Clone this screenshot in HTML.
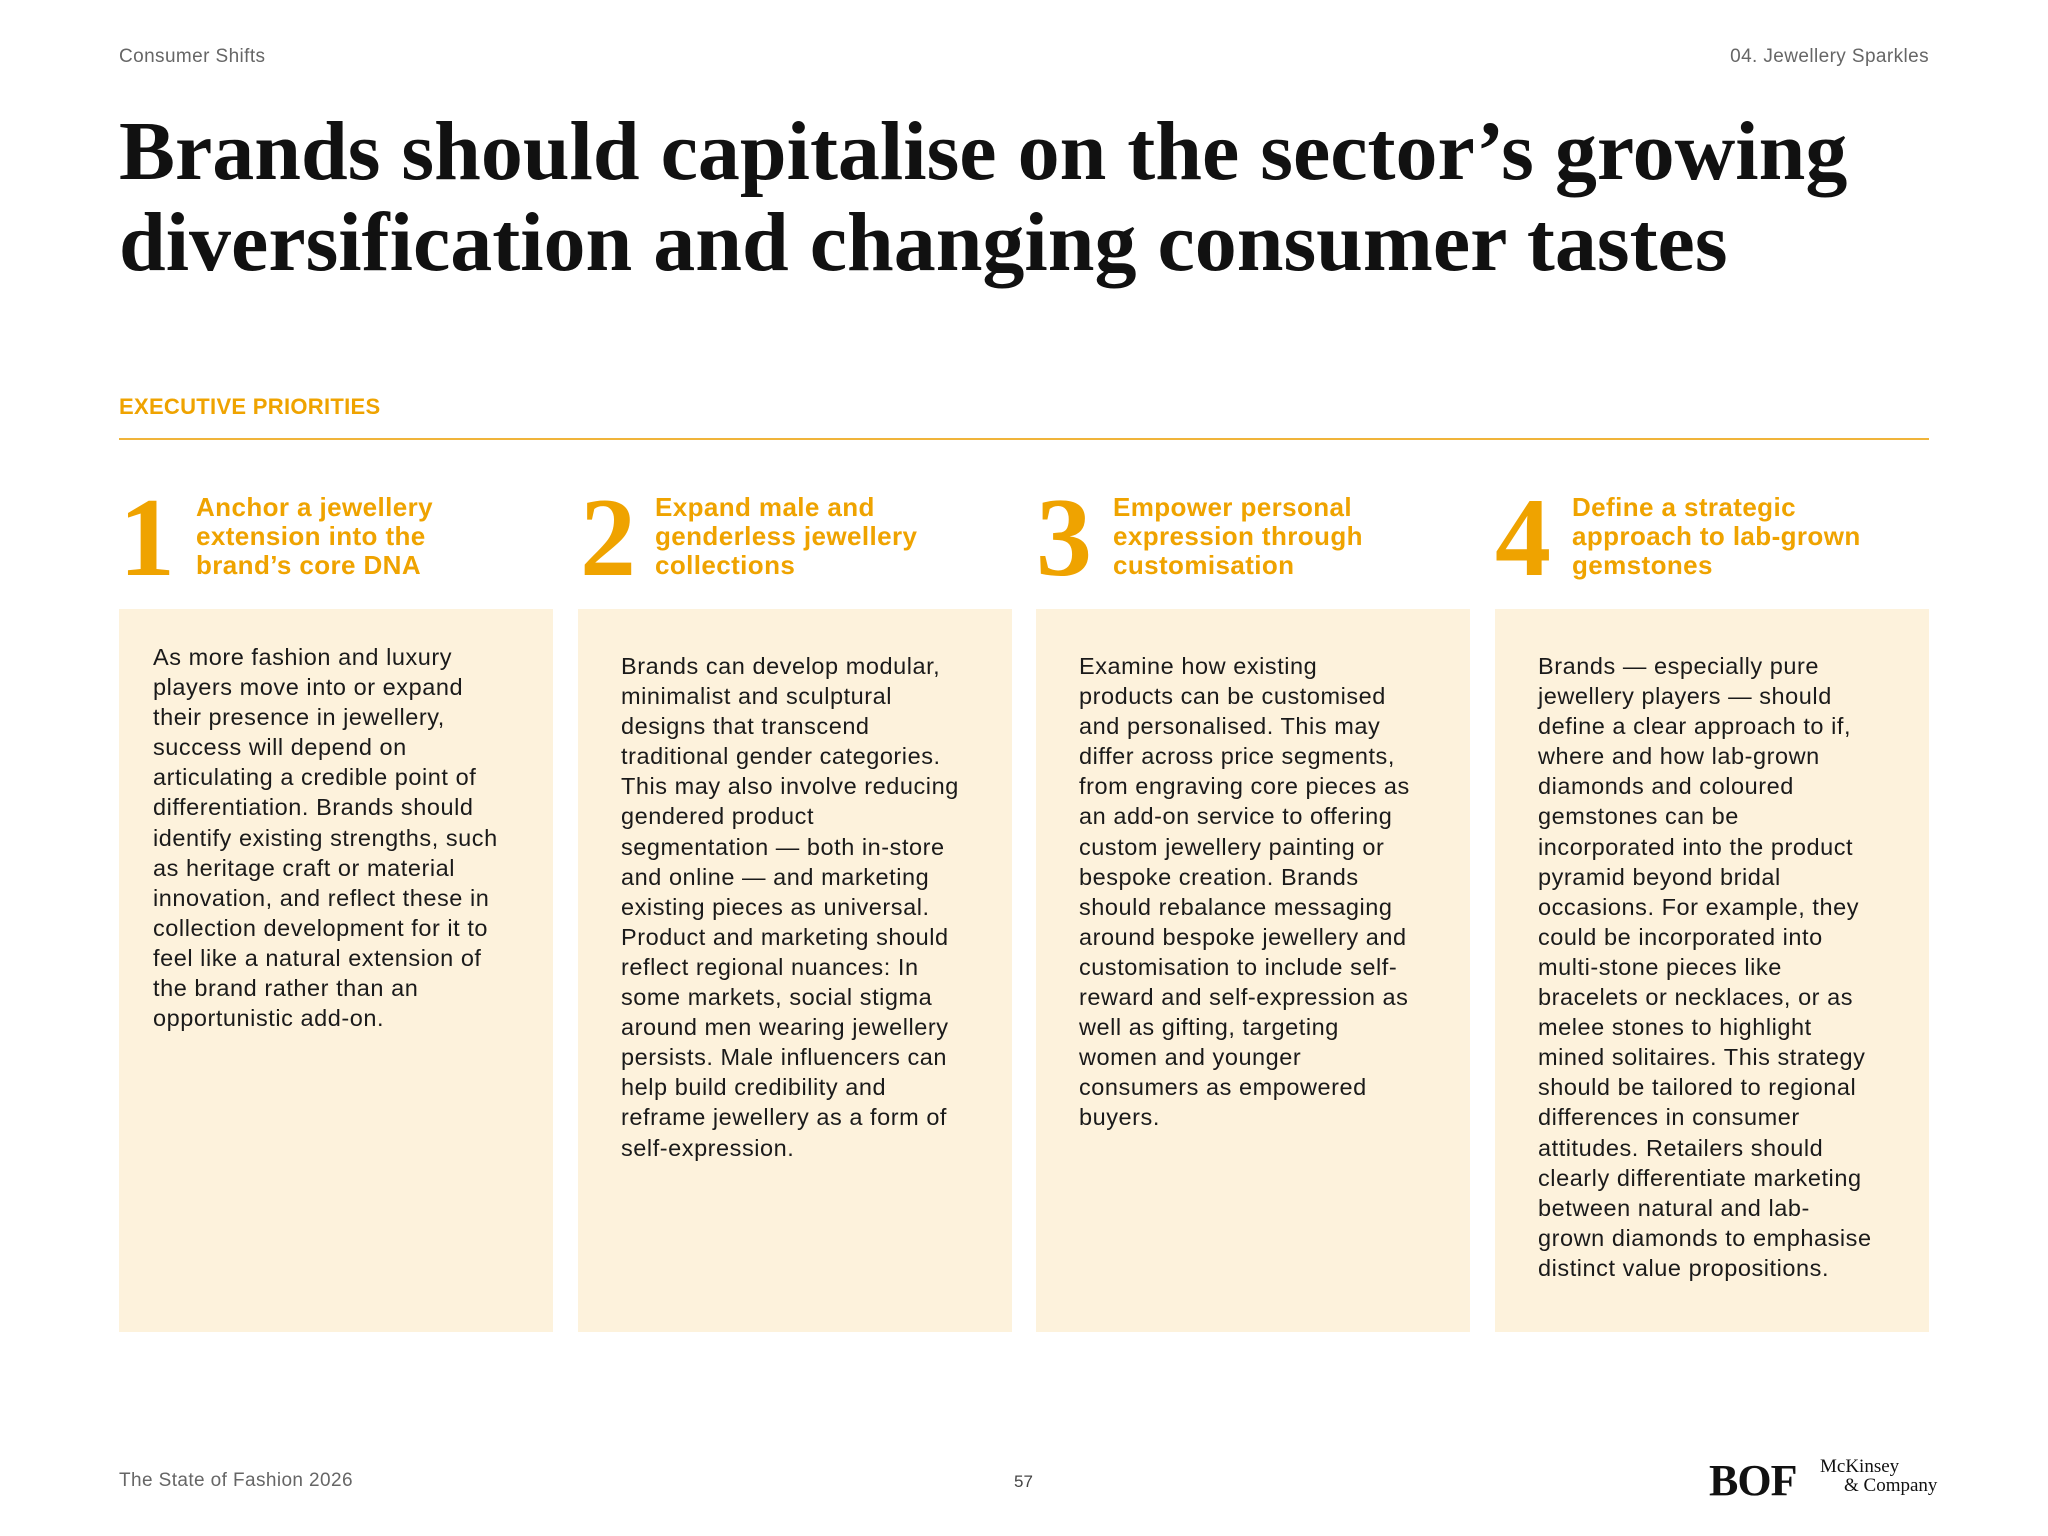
<!DOCTYPE html>
<html><head><meta charset="utf-8">
<style>
*{margin:0;padding:0;box-sizing:border-box}
body{width:2048px;height:1536px;background:#fff;position:relative;font-family:"Liberation Sans",sans-serif;color:#1a1a1a;overflow:hidden}
.abs{position:absolute}
.hdr{font-size:19px;color:#666;top:46px;letter-spacing:0.4px}
.title{left:119px;top:106px;font-family:"Liberation Serif",serif;font-weight:bold;font-size:84px;line-height:91px;color:#111;letter-spacing:0px;white-space:nowrap}
.ep{left:119px;top:394px;font-size:22px;font-weight:bold;color:#EFA300;letter-spacing:0.3px}
.rule{left:119px;top:438px;width:1810px;height:2px;background:#F0B43A}
.num{font-family:"Liberation Serif",serif;font-weight:bold;font-size:112px;line-height:100px;color:#EFA300;top:488px}
.hd{font-size:26px;line-height:29px;font-weight:bold;color:#EFA300;top:493px;white-space:nowrap;letter-spacing:0.4px}
.box{top:609px;width:434px;height:723px;background:#FDF2DC}
.txt{position:absolute;left:43px;font-size:23.5px;line-height:30.1px;color:#1a1a1a;white-space:nowrap;letter-spacing:0.55px}
.ft{font-size:19px;color:#666;top:1470px;letter-spacing:0.4px}
</style></head><body>
<div class="abs hdr" style="left:119px">Consumer Shifts</div>
<div class="abs hdr" style="right:119px">04. Jewellery Sparkles</div>
<div class="abs title">Brands should capitalise on the sector’s growing<br>diversification and changing consumer tastes</div>
<div class="abs ep">EXECUTIVE PRIORITIES</div>
<div class="abs rule"></div>

<div class="abs num" style="left:119px">1</div>
<div class="abs hd" style="left:196px">Anchor a jewellery<br>extension into the<br>brand’s core DNA</div>
<div class="abs num" style="left:580px">2</div>
<div class="abs hd" style="left:655px">Expand male and<br>genderless jewellery<br>collections</div>
<div class="abs num" style="left:1036px">3</div>
<div class="abs hd" style="left:1113px">Empower personal<br>expression through<br>customisation</div>
<div class="abs num" style="left:1495px">4</div>
<div class="abs hd" style="left:1572px">Define a strategic<br>approach to lab-grown<br>gemstones</div>

<div class="abs box" style="left:119px"><div class="txt" style="top:33px;left:34px">As more fashion and luxury<br>players move into or expand<br>their presence in jewellery,<br>success will depend on<br>articulating a credible point of<br>differentiation. Brands should<br>identify existing strengths, such<br>as heritage craft or material<br>innovation, and reflect these in<br>collection development for it to<br>feel like a natural extension of<br>the brand rather than an<br>opportunistic add-on.</div></div>
<div class="abs box" style="left:578px"><div class="txt" style="top:42px">Brands can develop modular,<br>minimalist and sculptural<br>designs that transcend<br>traditional gender categories.<br>This may also involve reducing<br>gendered product<br>segmentation — both in-store<br>and online — and marketing<br>existing pieces as universal.<br>Product and marketing should<br>reflect regional nuances: In<br>some markets, social stigma<br>around men wearing jewellery<br>persists. Male influencers can<br>help build credibility and<br>reframe jewellery as a form of<br>self-expression.</div></div>
<div class="abs box" style="left:1036px"><div class="txt" style="top:42px">Examine how existing<br>products can be customised<br>and personalised. This may<br>differ across price segments,<br>from engraving core pieces as<br>an add-on service to offering<br>custom jewellery painting or<br>bespoke creation. Brands<br>should rebalance messaging<br>around bespoke jewellery and<br>customisation to include self-<br>reward and self-expression as<br>well as gifting, targeting<br>women and younger<br>consumers as empowered<br>buyers.</div></div>
<div class="abs box" style="left:1495px"><div class="txt" style="top:42px">Brands — especially pure<br>jewellery players — should<br>define a clear approach to if,<br>where and how lab-grown<br>diamonds and coloured<br>gemstones can be<br>incorporated into the product<br>pyramid beyond bridal<br>occasions. For example, they<br>could be incorporated into<br>multi-stone pieces like<br>bracelets or necklaces, or as<br>melee stones to highlight<br>mined solitaires. This strategy<br>should be tailored to regional<br>differences in consumer<br>attitudes. Retailers should<br>clearly differentiate marketing<br>between natural and lab-<br>grown diamonds to emphasise<br>distinct value propositions.</div></div>

<div class="abs ft" style="left:119px">The State of Fashion 2026</div>
<div class="abs ft" style="left:1014px;font-size:17px;top:1472px;color:#444;letter-spacing:0">57</div>
<div class="abs" style="left:1709px;top:1455px;font-family:'Liberation Serif',serif;font-size:44px;font-weight:bold;color:#111;letter-spacing:-1px">BOF</div>
<div class="abs" style="left:1820px;top:1457px;font-family:'Liberation Serif',serif;font-size:19px;line-height:19px;color:#111">McKinsey<br><span style="padding-left:24px">&amp; Company</span></div>
</body></html>
